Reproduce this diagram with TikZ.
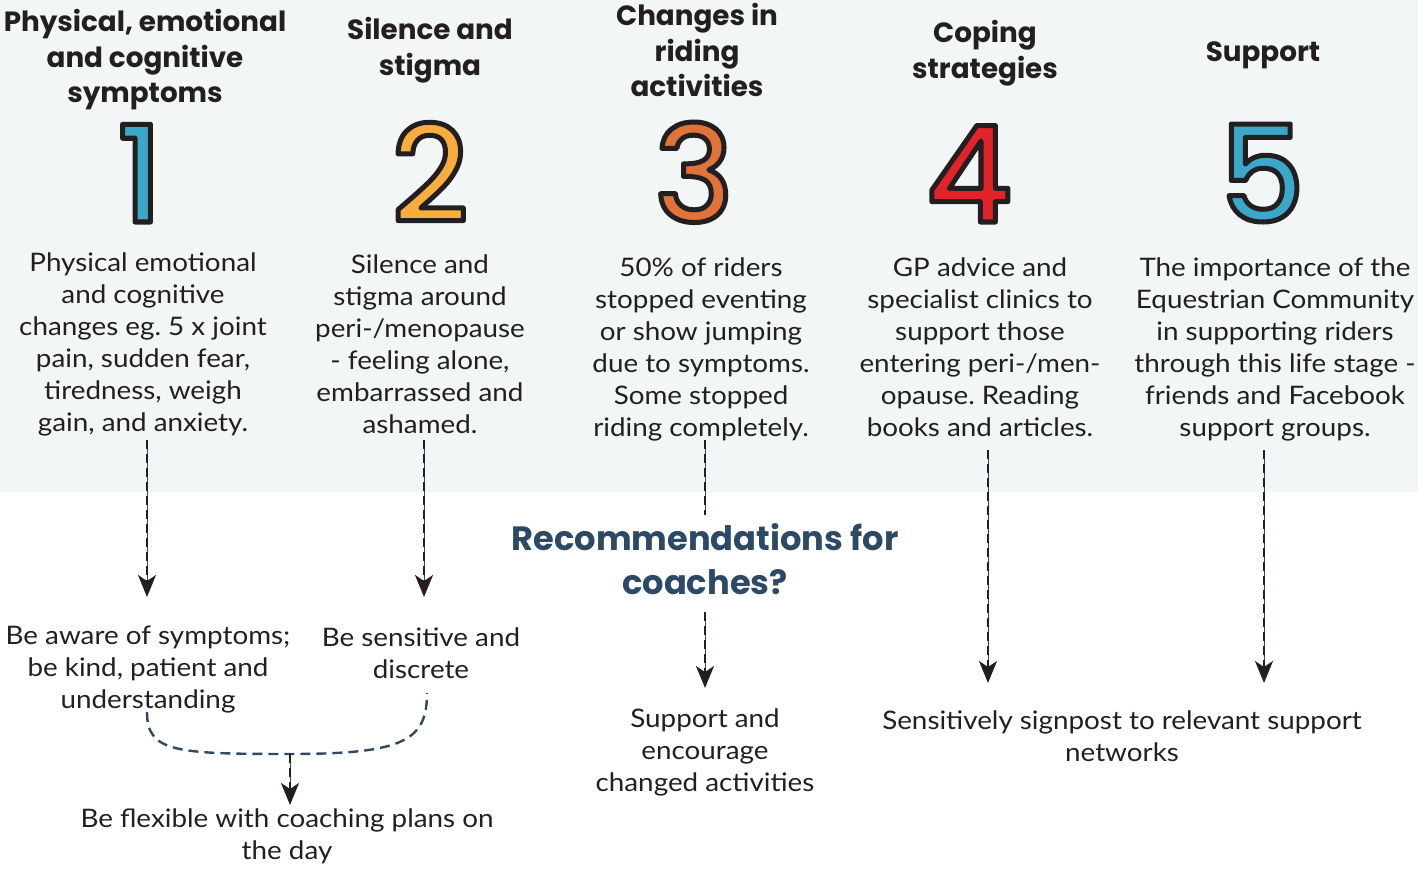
\documentclass[tikz,border=0pt]{standalone}
\usepackage{fontspec}
\setmainfont{Lato}[FakeStretch=1.09]
\newfontfamily\headfont{Poppins}
\newfontfamily\digitfont{Poppins Medium}
\usetikzlibrary{arrows.meta}
\frenchspacing

\definecolor{panel}{HTML}{F2F6F7}
\definecolor{ink}{HTML}{231F20}
\definecolor{navy}{HTML}{2C4A66}
\definecolor{numblue}{HTML}{3BA8C9}
\definecolor{numyellow}{HTML}{F8AD3C}
\definecolor{numorange}{HTML}{E0733A}
\definecolor{numred}{HTML}{E2232A}

\tikzset{
  heading/.style={inner sep=0pt, anchor=north, align=center, text=ink,
    font=\headfont\bfseries\fontsize{27.8}{35.5}\selectfont},
  bodytext/.style={inner sep=0pt, anchor=north, align=center, text=ink,
    font=\fontsize{25.5}{32}\selectfont},
  title/.style={inner sep=0pt, anchor=north, align=center, text=navy,
    font=\headfont\bfseries\fontsize{33.7}{44}\selectfont},
  digit/.style={inner sep=0pt, anchor=base, font=\digitfont\fontsize{134}{134}\selectfont},
  guide/.style={draw=navy, line width=0.6pt},
  flow/.style={draw=ink, line width=2.4pt, dash pattern=on 9pt off 5pt},
  tip/.style={-{Stealth[length=22pt, width=18pt, inset=6pt]}},
  merge/.style={draw=navy, line width=2.4pt, dash pattern=on 10pt off 6pt},
}

% numeral filled with its colour and stroked with a dark outline
\newcommand{\outlined}[1]{%
  \special{pdf:literal direct 0.137 0.122 0.125 RG 5 w 1 j 2 Tr}#1%
  \special{pdf:literal direct 0 Tr}}

\begin{document}
\begin{tikzpicture}[x=1pt, y=-1pt]
\useasboundingbox (0,0) rectangle (1418,872);
\fill[panel] (0,0) rectangle (1418,492);

% column headings
\node[heading] (h1) at (145,9.5) {Physical, emotional\\and cognitive\\symptoms};
\node[heading] (h2) at (430,17.5) {Silence and\\stigma};
\node[heading] (h3) at (697,3.5) {Changes in\\riding\\activities};
\node[heading] (h4) at (985,20.5) {Coping\\strategies};
\node[heading] (h5) at (1263,41.5) {Support};

% numerals
\node[digit, text=numblue]   (n1) at (140,222)  {\outlined{1}};
\node[digit, text=numyellow] (n2) at (430,222)  {\outlined{2}};
\node[digit, text=numorange] (n3) at (694,222)  {\outlined{3}};
\node[digit, text=numred]    (n4) at (969,222)  {\outlined{4}};
\node[digit, text=numblue]   (n5) at (1262,222) {\outlined{5}};

% findings
\node[bodytext] (b1) at (143,253) {Physical emotional\\and cognitive\\changes eg. 5 x joint\\pain, sudden fear,\\tiredness, weigh\\gain, and anxiety.};
\node[bodytext] (b2) at (420,255) {Silence and\\stigma around\\peri-/menopause\\- feeling alone,\\embarrassed and\\ashamed.};
\node[bodytext] (b3) at (701,258) {50\% of riders\\stopped eventing\\or show jumping\\due to symptoms.\\Some stopped\\riding completely.};
\node[bodytext] (b4) at (980,258) {GP advice and\\specialist clinics to\\support those\\entering peri-/men-\\opause. Reading\\books and articles.};
\node[bodytext] (b5) at (1275,258) {The importance of the\\Equestrian Community\\in supporting riders\\through this life stage -\\friends and Facebook\\support groups.};

% central question
\node[title] (rec) at (705,523) {Recommendations for\\coaches?};

% recommendations
\node[bodytext] (r1) at (148,626) {Be aware of symptoms;\\be kind, patient and\\understanding};
\node[bodytext] (r2) at (421,628) {Be sensitive and\\discrete};
\node[bodytext] (r3) at (705,709) {Support and\\encourage\\changed activities};
\node[bodytext] (r4) at (1122,711) {Sensitively signpost to relevant support\\networks};
\node[bodytext] (r5) at (287,809) {Be flexible with coaching plans on\\the day};

% connector end points
\coordinate (s1) at (147,440);  \coordinate (e1) at (147,597);
\coordinate (s2) at (424,440);  \coordinate (e2) at (424,597);
\coordinate (s3) at (705,440);  \coordinate (m3) at (705,515);
\coordinate (t3) at (705,612);  \coordinate (e3) at (705,688);
\coordinate (s4) at (988,450);  \coordinate (e4) at (988,683);
\coordinate (s5) at (1264,450); \coordinate (e5) at (1264,683);
\coordinate (jl) at (147,712);  \coordinate (jr) at (427,693);
\coordinate (jm) at (290,754);  \coordinate (e6) at (290,805);
\coordinate (g1) at (147,585);  \coordinate (g2) at (424,585);
\coordinate (g3) at (705,676);  \coordinate (g4) at (988,671);
\coordinate (g5) at (1264,671); \coordinate (g6) at (290,793);

% thin guide lines under the dashes
\draw[guide] (s1) -- (g1);
\draw[guide] (s2) -- (g2);
\draw[guide] (s3) -- (m3);
\draw[guide] (t3) -- (g3);
\draw[guide] (s4) -- (g4);
\draw[guide] (s5) -- (g5);
\draw[guide] (jm) -- (g6);

\draw[flow, tip] (s1) -- (e1);
\draw[flow, tip] (s2) -- (e2);
\draw[flow] (s3) -- (m3);
\draw[flow, tip] (t3) -- (e3);
\draw[flow, tip] (s4) -- (e4);
\draw[flow, tip] (s5) -- (e5);

% merging the first two recommendations
\draw[merge] (jl) .. controls (147,752) and (175,754) .. (jm)
  .. controls (405,754) and (427,740) .. (jr);
\draw[flow, tip] (jm) -- (e6);
\end{tikzpicture}
\end{document}
